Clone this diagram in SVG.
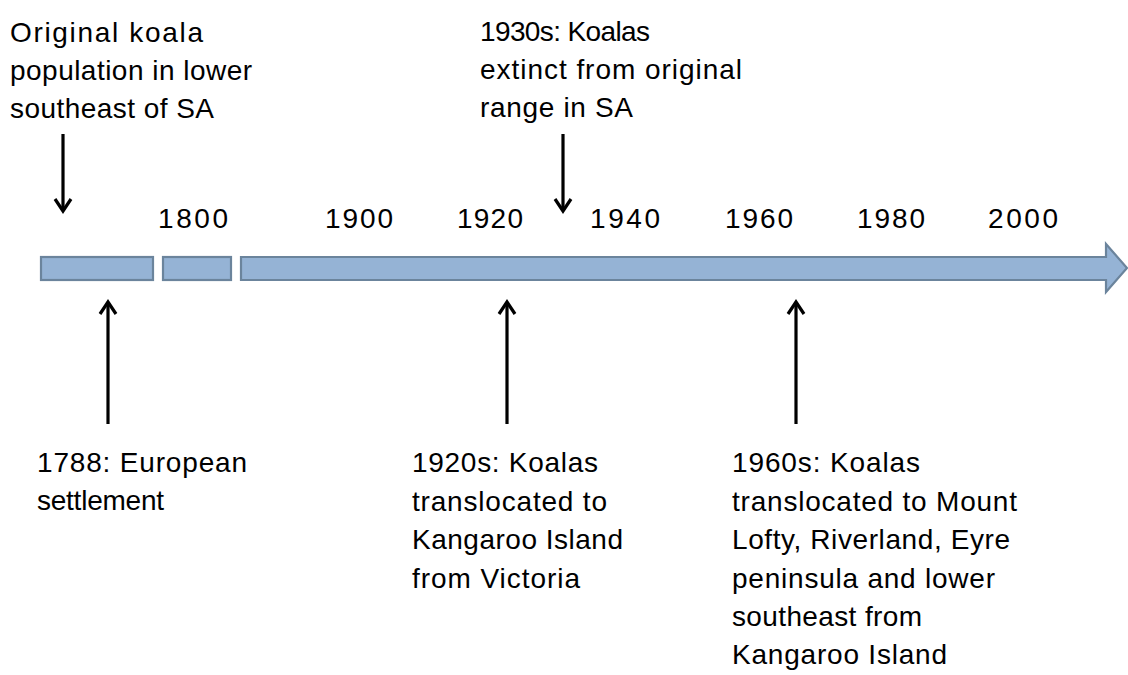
<svg xmlns="http://www.w3.org/2000/svg" width="1128" height="675" viewBox="0 0 1128 675">
<style>
.t{font-family:"Liberation Sans",Arial,sans-serif;font-size:28px;fill:#000}
.bar{fill:#95b3d5;stroke:#6b849c;stroke-width:2.2}
.ln{stroke:#000;stroke-width:3.2;fill:none}
.hd{stroke:#000;stroke-width:3.2;fill:none;stroke-linejoin:miter;stroke-linecap:butt}
</style>
<rect width="1128" height="675" fill="#fff"/>
<g id="timeline">
<rect class="bar" x="41" y="257" width="112" height="23"/>
<rect class="bar" x="163" y="257" width="68" height="23"/>
<path class="bar" d="M241 257 H1106 V244 L1127 268 L1106 292 V280 H241 Z"/>
</g>
<g id="years">
<text class="t" x="158" y="228" textLength="70">1800</text>
<text class="t" x="325" y="228" textLength="68">1900</text>
<text class="t" x="457" y="228" textLength="66">1920</text>
<text class="t" x="590" y="228" textLength="70">1940</text>
<text class="t" x="725" y="228" textLength="68">1960</text>
<text class="t" x="857" y="228" textLength="68">1980</text>
<text class="t" x="988" y="228" textLength="70">2000</text>
</g>
<g id="connectors">
<line class="ln" x1="63" y1="134" x2="63" y2="210"/>
<path class="hd" d="M55 199 L63 211 L71 199"/>
<line class="ln" x1="563" y1="134" x2="563" y2="210"/>
<path class="hd" d="M555 199 L563 211 L571 199"/>
<line class="ln" x1="108" y1="304" x2="108" y2="424"/>
<path class="hd" d="M100 314 L108 302 L116 314"/>
<line class="ln" x1="507" y1="304" x2="507" y2="424"/>
<path class="hd" d="M499 314 L507 302 L515 314"/>
<line class="ln" x1="796" y1="304" x2="796" y2="424"/>
<path class="hd" d="M788 314 L796 302 L804 314"/>
</g>
<g id="note-original">
<text class="t" x="10" y="42" textLength="193">Original koala</text>
<text class="t" x="10" y="80" textLength="242">population in lower</text>
<text class="t" x="10" y="118" textLength="204">southeast of SA</text>
</g>
<g id="note-1930s">
<text class="t" x="480" y="41" textLength="170">1930s: Koalas</text>
<text class="t" x="480" y="79" textLength="262">extinct from original</text>
<text class="t" x="480" y="117" textLength="153">range in SA</text>
</g>
<g id="note-1788">
<text class="t" x="37" y="472" textLength="210">1788: European</text>
<text class="t" x="37" y="510" textLength="127">settlement</text>
</g>
<g id="note-1920s">
<text class="t" x="412" y="472" textLength="186">1920s: Koalas</text>
<text class="t" x="412" y="511" textLength="195">translocated to</text>
<text class="t" x="412" y="549" textLength="211">Kangaroo Island</text>
<text class="t" x="412" y="588" textLength="168">from Victoria</text>
</g>
<g id="note-1960s">
<text class="t" x="732" y="472" textLength="188">1960s: Koalas</text>
<text class="t" x="732" y="511" textLength="285">translocated to Mount</text>
<text class="t" x="732" y="549" textLength="278">Lofty, Riverland, Eyre</text>
<text class="t" x="732" y="588" textLength="263">peninsula and lower</text>
<text class="t" x="732" y="626" textLength="190">southeast from</text>
<text class="t" x="732" y="664" textLength="215">Kangaroo Island</text>
</g>
</svg>
